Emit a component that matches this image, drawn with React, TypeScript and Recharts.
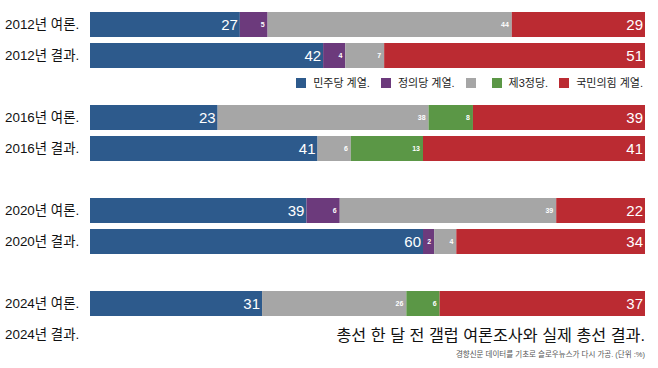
import React from 'react';
import { BarChart, Bar, XAxis, YAxis, LabelList } from 'recharts';

const FONT = "'Liberation Sans', 'Noto Sans CJK KR', sans-serif";

const rowLabels = ['2012년 여론.', '2012년 결과.', '', '2016년 여론.', '2016년 결과.', '', '2020년 여론.', '2020년 결과.', '', '2024년 여론.', '2024년 결과.'];
const demValues = [27, 42, null, 23, 41, null, 39, 60, null, 31, null];
const jusValues = [5, 4, null, null, null, null, 6, 2, null, null, null];
const etcValues = [44, 7, null, 38, 6, null, 39, 4, null, 26, null];
const thirdValues = [null, null, null, 8, 13, null, null, null, null, 6, null];
const pppBarValues = [24, 47, null, 31, 40, null, 16, 34, null, 37, null];
const pppLabels = [29, 51, null, 39, 41, null, 22, 34, null, 37, null];

const seriesNames = ['민주당 계열.', '정의당 계열.', '', '제3정당.', '국민의힘 계열.'];
const seriesColors = ['#2d5a8c', '#6c3a7c', '#a6a6a6', '#5b9746', '#bb2b32'];

const title = '총선 한 달 전 갤럽 여론조사와 실제 총선 결과.';
const source = '경향신문 데이터를 기초로 슬로우뉴스가 다시 가공. (단위 :%)';

const data = rowLabels.map((label, i) => ({
  key: `r${i}`,
  label,
  dem: demValues[i],
  jus: jusValues[i],
  etc: etcValues[i],
  third: thirdValues[i],
  ppp: pppBarValues[i],
  pppLabel: pppLabels[i],
}));

const makeLabel = (big: boolean) => (props: any) => {
  const { x, y, width, height, value } = props;
  if (value == null || value === 0) return null;
  return (
    <text
      x={Number(x) + Number(width) - (big ? 2 : 3)}
      y={Number(y) + Number(height) / 2}
      dy="0.36em"
      textAnchor="end"
      fill="#ffffff"
      fontFamily={FONT}
      fontSize={big ? 15 : 7}
      fontWeight={big ? 400 : 700}
    >
      {value}
    </text>
  );
};

const YTick = (props: any) => {
  const { y, payload } = props;
  const idx = Number(String(payload.value).slice(1));
  const text = rowLabels[idx];
  if (!text) return null;
  return (
    <text x={5} y={y} dy="0.36em" textAnchor="start" fill="#111" fontFamily={FONT} fontSize={13.4}>
      {text}
    </text>
  );
};

const LegendBox = () => (
  <div
    style={{
      position: 'absolute',
      right: 15,
      top: 77,
      display: 'flex',
      alignItems: 'center',
      fontFamily: FONT,
      fontSize: 11,
      color: '#222',
      lineHeight: '12px',
    }}
  >
    {seriesNames.map((name, i) => (
      <div key={i} style={{ display: 'flex', alignItems: 'center', marginLeft: i === 0 ? 0 : i === 3 ? 16 : 11 }}>
        <span style={{ display: 'inline-block', width: 10, height: 10, background: seriesColors[i] }} />
        {name ? <span style={{ marginLeft: 7, whiteSpace: 'nowrap' }}>{name}</span> : null}
      </div>
    ))}
  </div>
);

export default function App() {
  return (
    <div style={{ position: 'absolute', left: 0, top: 0, width: 658, height: 368, background: '#fff' }}>
      <BarChart
        width={658}
        height={368}
        data={data}
        layout="vertical"
        margin={{ top: 9, right: 13, bottom: 18, left: 0 }}
        barSize={25}
      >
        <XAxis type="number" domain={[0, 100]} hide />
        <YAxis type="category" dataKey="key" width={90} axisLine={false} tickLine={false} tick={<YTick />} interval={0} />
        <Bar dataKey="dem" stackId="a" fill={seriesColors[0]} isAnimationActive={false}>
          <LabelList dataKey="dem" content={makeLabel(true)} />
        </Bar>
        <Bar dataKey="jus" stackId="a" fill={seriesColors[1]} isAnimationActive={false}>
          <LabelList dataKey="jus" content={makeLabel(false)} />
        </Bar>
        <Bar dataKey="etc" stackId="a" fill={seriesColors[2]} isAnimationActive={false}>
          <LabelList dataKey="etc" content={makeLabel(false)} />
        </Bar>
        <Bar dataKey="third" stackId="a" fill={seriesColors[3]} isAnimationActive={false}>
          <LabelList dataKey="third" content={makeLabel(false)} />
        </Bar>
        <Bar dataKey="ppp" stackId="a" fill={seriesColors[4]} isAnimationActive={false}>
          <LabelList dataKey="pppLabel" content={makeLabel(true)} />
        </Bar>
      </BarChart>
      <LegendBox />
      <div
        style={{
          position: 'absolute',
          right: 13,
          top: 324,
          fontFamily: FONT,
          fontSize: 16.2,
          color: '#111',
          whiteSpace: 'nowrap',
          lineHeight: '22px',
        }}
      >
        {title}
      </div>
      <div
        style={{
          position: 'absolute',
          right: 13,
          top: 350,
          fontFamily: FONT,
          fontSize: 7.5,
          color: '#555',
          whiteSpace: 'nowrap',
          lineHeight: '10px',
        }}
      >
        {source}
      </div>
    </div>
  );
}
